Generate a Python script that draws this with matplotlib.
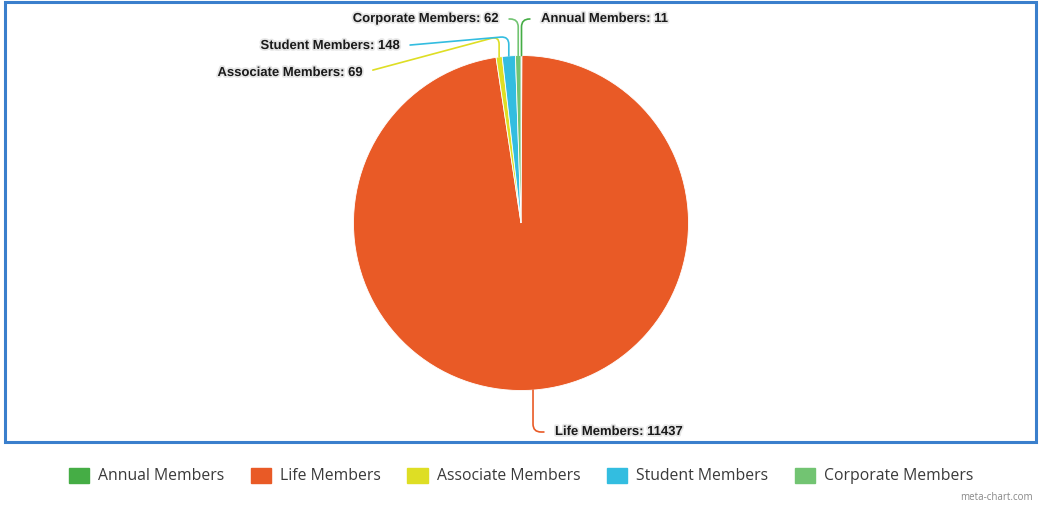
import numpy as np
import matplotlib
matplotlib.use("Agg")
import matplotlib.pyplot as plt
import matplotlib.patches as mpatches
import matplotlib.patheffects as pe

# data, clockwise from 12 o'clock
labels = ["Annual Members", "Life Members", "Associate Members", "Student Members", "Corporate Members"]
values = [11, 11437, 69, 148, 62]
colors = ["#45ad45", "#e95a26", "#dede24", "#33bde0", "#72c472"]

W, H = 1041, 508
fig = plt.figure(figsize=(W / 100, H / 100), dpi=100)
ax = fig.add_axes([0, 0, 1, 1])

cx, cy, r = 521, H - 223, 167.5
wedges, _ = ax.pie(values, colors=colors, startangle=90, counterclock=False,
                   center=(cx, cy), radius=r, frame=True,
                   wedgeprops=dict(edgecolor="white", linewidth=0.6))
ax.set_xlim(0, W)
ax.set_ylim(0, H)
ax.set_aspect("equal")
ax.axis("off")

# label text positions (pixels from top-left), alignment, connector style
label_pos = {
    "Annual Members": (541, 19, "left", "angle,angleA=0,angleB=90,rad=8"),
    "Life Members": (555, 432, "left", "angle,angleA=0,angleB=90,rad=8"),
    "Associate Members": (362, 73, "right", "angle,angleA=15,angleB=90,rad=8"),
    "Student Members": (399, 46, "right", "angle,angleA=5,angleB=90,rad=8"),
    "Corporate Members": (498, 19, "right", "angle,angleA=0,angleB=90,rad=8"),
}
shadow = [pe.withStroke(linewidth=2.5, foreground="#e6e6e6")]
for w, lab, val, col in zip(wedges, labels, values, colors):
    mid = np.deg2rad((w.theta1 + w.theta2) / 2)
    px, py = cx + r * np.cos(mid), cy + r * np.sin(mid)
    tx, ty, ha, cs = label_pos[lab]
    rel = (1, 0.5) if ha == "right" else (0, 0.5)
    ax.annotate(f"{lab}: {val}", xy=(px, py), xytext=(tx, H - ty),
                ha=ha, va="center", fontsize=9.4, fontweight="bold",
                family="Liberation Sans", color="#1a1a1a", path_effects=shadow,
                arrowprops=dict(arrowstyle="-", color=col, lw=1.2, relpos=rel,
                                connectionstyle=cs, shrinkA=6, shrinkB=0))

# outer blue frame
fig.patches.append(mpatches.Rectangle((5 / W, 1 - 442 / H), 1031 / W, 440 / H,
                                      transform=fig.transFigure, fill=False,
                                      edgecolor="#3a7fcc", linewidth=2.2))

handles = [mpatches.Patch(color=c, label=l) for c, l in zip(colors, labels)]
fig.legend(handles=handles, loc="center", bbox_to_anchor=(521 / W, 1 - 476 / H),
           ncol=5, frameon=False, handlelength=1.3, handleheight=1.1,
           handletextpad=0.55, columnspacing=1.7, labelcolor="#3a3a3a",
           prop=dict(family="Open Sans", size=11.3))

fig.text(1033 / W, 1 - 497 / H, "meta-chart.com", ha="right", va="center",
         fontsize=7, color="#888888", family="Open Sans")

fig.savefig("out.png", dpi=100)
